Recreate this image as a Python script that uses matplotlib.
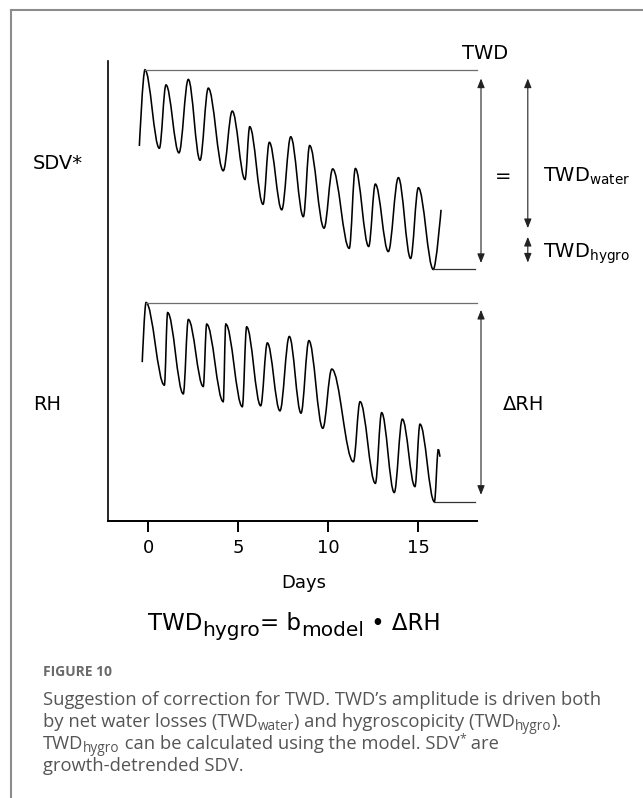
import matplotlib
matplotlib.use("Agg")
import matplotlib.pyplot as plt
from matplotlib.path import Path
from matplotlib.patches import PathPatch
from matplotlib.lines import Line2D

plt.rcParams['font.family'] = 'DejaVu Sans'
plt.rcParams['mathtext.fontset'] = 'custom'
plt.rcParams['mathtext.sf'] = 'DejaVu Sans'

# extrema of the detrended stem diameter curve (days, arbitrary units)
sdv_days = [-0.48, -0.17, 0.63, 1.0, 1.72, 2.24, 2.89, 3.35, 4.18, 4.68, 5.39, 5.65,
            6.39, 6.74, 7.43, 7.93, 8.63, 8.98, 9.78, 10.26, 11.18, 11.52, 12.26,
            12.63, 13.35, 13.91, 14.59, 15.02, 15.85, 16.28]
sdv_values = [81.7, 98.3, 81.2, 95.0, 80.2, 96.2, 78.6, 94.3, 76.3, 89.3, 74.4, 85.9,
              69.0, 82.5, 67.8, 83.7, 66.3, 81.8, 63.8, 76.7, 59.4, 76.8, 59.8,
              73.4, 58.7, 74.8, 57.2, 72.6, 54.8, 67.8]

# extrema of the relative humidity curve
rh_days = [-0.32, -0.11, 0.91, 1.09, 1.96, 2.24, 3.07, 3.26, 4.18, 4.32, 5.24, 5.48,
           6.26, 6.63, 7.33, 7.85, 8.5, 8.94, 9.71, 10.21, 11.41, 11.78, 12.63,
           12.98, 13.68, 14.13, 14.83, 15.11, 15.91, 16.13, 16.22]
rh_values = [34.6, 47.6, 29.6, 45.4, 27.7, 43.9, 29.3, 42.9, 26.0, 42.9, 24.9, 42.3,
             25.1, 38.8, 24.0, 40.2, 23.5, 39.3, 20.2, 33.1, 12.9, 26.0, 8.2,
             23.6, 6.2, 22.2, 7.5, 21.1, 4.2, 15.6, 14.0]

day_ticks = [0, 5, 10, 15]
line_end = 18.3

# arrow extents (top, bottom)
twd_arrow = (96.4, 56.2)
water_arrow = (96.4, 63.8)
hygro_arrow = (61.9, 56.3)
rh_arrow = (46.0, 5.7)

# text runs: 'n' normal, 'sub' subscript, 'sup' superscript
formula = [('TWD', 'n'), ('hygro', 'sub'), ('= b', 'n'), ('model', 'sub'), (' \u2022 \u0394RH', 'n')]
caption_lines = [
    [("Suggestion of correction for TWD. TWD\u2019s amplitude is driven both", 'n')],
    [("by net water losses (TWD", 'n'), ("water", 'sub'), (") and hygroscopicity (TWD", 'n'),
     ("hygro", 'sub'), (").", 'n')],
    [("TWD", 'n'), ("hygro", 'sub'), (" can be calculated using the model. SDV", 'n'),
     ("*", 'sup'), (" are", 'n')],
    [("growth-detrended SDV.", 'n')],
]


def smooth_path(xs, ys, k=0.36):
    verts = [(xs[0], ys[0])]
    codes = [Path.MOVETO]
    n = len(xs)
    for i in range(n - 1):
        dx = xs[i + 1] - xs[i]
        c1 = (xs[i], ys[i]) if i == 0 else (xs[i] + k * dx, ys[i])
        c2 = (xs[i + 1], ys[i + 1]) if i == n - 2 else (xs[i + 1] - k * dx, ys[i + 1])
        verts += [c1, c2, (xs[i + 1], ys[i + 1])]
        codes += [Path.CURVE4] * 3
    return Path(verts, codes)


def put_runs(ax, x, y, runs, coords, styles, **kw):
    # first run placed normally, the rest chained to the right edge of the previous one
    size, dy = styles[runs[0][1]]
    prev = ax.annotate(runs[0][0], xy=(x, y), xycoords=coords, xytext=(0, dy),
                       textcoords='offset points', fontsize=size, va='baseline',
                       annotation_clip=False, **kw)
    for s, kind in runs[1:]:
        size, dy = styles[kind]
        prev = ax.annotate(s, xy=(1, y), xycoords=(prev, coords), xytext=(0, dy),
                           textcoords='offset points', fontsize=size, va='baseline',
                           annotation_clip=False, **kw)


fig = plt.figure(figsize=(6.43, 7.98), dpi=100)
ax = fig.add_axes([0.1675, 0.3471, 0.8325, 0.5764])
ax.set_xlim(-2.239, 27.5)
ax.set_ylim(0, 100.2)

for xs, ys in [(sdv_days, sdv_values), (rh_days, rh_values)]:
    ax.add_patch(PathPatch(smooth_path(xs, ys), fill=False, lw=1.15, color='black'))
    top = ys.index(max(ys))
    low = ys.index(min(ys))
    ax.plot([xs[top], line_end], [ys[top]] * 2, color='#6e6e6e', lw=0.9)
    ax.plot([xs[low], line_end - 0.15], [ys[low]] * 2, color='#333333', lw=0.9)

for xpos, (y0, y1) in [(18.5, twd_arrow), (21.1, water_arrow), (21.1, hygro_arrow), (18.5, rh_arrow)]:
    ax.annotate('', xy=(xpos, y0), xytext=(xpos, y1),
                arrowprops=dict(arrowstyle='<|-|>,head_length=0.55,head_width=0.22',
                                color='#222222', lw=0.8, mutation_scale=10,
                                shrinkA=0, shrinkB=0))

fs = 14
ax.text(18.72, 101.9, 'TWD', fontsize=fs, ha='center', va='center', clip_on=False)
ax.text(19.72, 75.0, '=', fontsize=fs, ha='center', va='center')
ax.text(21.96, 75.0, r'TWD$_{\mathsf{water}}$', fontsize=fs, ha='left', va='center')
ax.text(21.96, 58.3, r'TWD$_{\mathsf{hygro}}$', fontsize=fs, ha='left', va='center')
ax.text(19.7, 25.3, '\u0394RH', fontsize=fs, ha='left', va='center')
ax.text(-6.39, 77.9, 'SDV*', fontsize=fs, ha='left', va='center', clip_on=False)
ax.text(-6.39, 25.3, 'RH', fontsize=fs, ha='left', va='center', clip_on=False)
ax.text(8.67, -13.4, 'Days', fontsize=13, ha='center', va='center', clip_on=False)

put_runs(ax, 0.0, -23.8, formula, 'data', {'n': (16.5, 0), 'sub': (14.5, -3.8)})

for side in ['top', 'right']:
    ax.spines[side].set_visible(False)
ax.spines['left'].set_linewidth(1.2)
ax.spines['bottom'].set_linewidth(1.4)
ax.spines['bottom'].set_bounds(-2.239, line_end)
ax.set_xticks(day_ticks)
ax.set_xticklabels([str(d) for d in day_ticks])
ax.tick_params(axis='x', length=8, width=1.4, labelsize=13, pad=5)
ax.set_yticks([])
ax.patch.set_alpha(0)

# open frame, caption
fig.add_artist(Line2D([11 / 643, 11 / 643], [0, 1 - 10 / 798], color='#8c8c8c', lw=1.5))
fig.add_artist(Line2D([11 / 643, 1], [1 - 10 / 798, 1 - 10 / 798], color='#8c8c8c', lw=1.5))
fig.text(43 / 643, 1 - 672 / 798, 'FIGURE 10', fontsize=10, fontweight='bold',
         family='Open Sans', color='#6a6a6a', va='center')
cap_styles = {'n': (13.2, 0), 'sub': (9.8, -2.5), 'sup': (8.8, 5)}
for i, runs in enumerate(caption_lines):
    put_runs(ax, 43 / 643, 1 - (705 + 22 * i) / 798, runs, 'figure fraction', cap_styles,
             family='Open Sans', color='#555555')

fig.savefig('out.png', dpi=100)
